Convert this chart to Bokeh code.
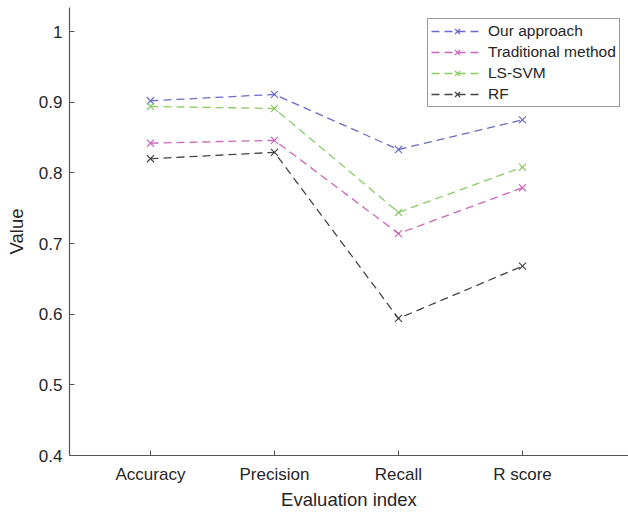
from bokeh.plotting import figure
from bokeh.models import Range1d, FixedTicker, Legend, LegendItem
from bokeh.embed import file_html
from bokeh.resources import INLINE

categories = ["Accuracy", "Precision", "Recall", "R score"]
our_approach = [0.902, 0.911, 0.833, 0.875]
traditional = [0.842, 0.846, 0.714, 0.779]
ls_svm = [0.894, 0.891, 0.744, 0.808]
rf = [0.820, 0.829, 0.594, 0.668]
y_ticks = [0.4, 0.5, 0.6, 0.7, 0.8, 0.9, 1.0]

series = [
    ("Our approach", our_approach, "#6a6acc"),
    ("Traditional method", traditional, "#cc66bb"),
    ("LS-SVM", ls_svm, "#88cc66"),
    ("RF", rf, "#444444"),
]

FONT = "Liberation Sans"
TXT = "#262626"

p = figure(width=628, height=512, output_backend="svg", toolbar_location=None,
           x_range=Range1d(0.347, 4.855), y_range=Range1d(0.4, 1.034),
           min_border_left=69, min_border_right=0, min_border_top=7, min_border_bottom=57)
p.outline_line_color = None
p.xgrid.visible = False
p.ygrid.visible = False
p.background_fill_color = "white"
p.border_fill_color = "white"

xs = list(range(1, len(categories) + 1))
items = []
for name, vals, col in series:
    l = p.line(xs, vals, line_color=col, line_width=1.3, line_dash="8 5")
    s = p.scatter(xs, vals, marker="x", size=10, line_color=col, line_width=1.2)
    items.append(LegendItem(label=name, renderers=[l, s]))

p.xaxis.ticker = FixedTicker(ticks=xs)
p.xaxis.major_label_overrides = {i: c for i, c in zip(xs, categories)}
p.yaxis.ticker = FixedTicker(ticks=y_ticks)
p.yaxis.major_label_overrides = {0.4: "0.4", 0.5: "0.5", 0.6: "0.6", 0.7: "0.7",
                                 0.8: "0.8", 0.9: "0.9", 1.0: "1"}

for ax in (p.xaxis, p.yaxis):
    ax.axis_line_color = "#555555"
    ax.axis_line_width = 1.2
    ax.major_tick_line_color = "#555555"
    ax.major_tick_in = 5
    ax.major_tick_out = 0
    ax.minor_tick_line_color = None
    ax.major_label_text_font = FONT
    ax.major_label_text_font_size = "17px"
    ax.major_label_text_color = TXT
    ax.axis_label_text_font = FONT
    ax.axis_label_text_font_size = "18.5px"
    ax.axis_label_text_font_style = "normal"
    ax.axis_label_text_color = TXT

p.xaxis.axis_label = "Evaluation index"
p.yaxis.axis_label = "Value"
p.xaxis.major_label_standoff = 9
p.yaxis.major_label_standoff = 7
p.xaxis.axis_label_standoff = 2
p.yaxis.axis_label_standoff = 9

legend = Legend(items=items, location=(358, 348))
legend.border_line_color = "#333333"
legend.border_line_width = 1
legend.background_fill_color = "white"
legend.label_text_font = FONT
legend.label_text_font_size = "15.5px"
legend.label_text_color = TXT
legend.glyph_width = 52
legend.glyph_height = 18
legend.label_standoff = 5
legend.spacing = 3
legend.padding = 3
legend.margin = 0
legend.label_height = 18
p.add_layout(legend)

open("out.html", "w").write(file_html(p, INLINE))
